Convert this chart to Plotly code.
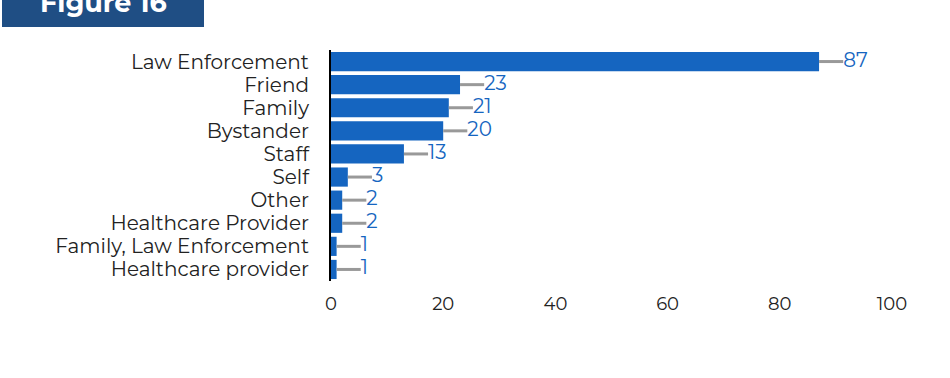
import plotly.graph_objects as go

# Referral source counts
categories = [
    "Law Enforcement", "Friend", "Family", "Bystander", "Staff", "Self",
    "Other", "Healthcare Provider", "Family, Law Enforcement", "Healthcare provider",
]
counts = [87, 23, 21, 20, 13, 3, 2, 2, 1, 1]
x_ticks = [0, 20, 40, 60, 80, 100]

BAR_BLUE = "#1565C0"
LEADER_GREY = "#999999"
FONT = "Montserrat, DejaVu Sans, sans-serif"
LEADER = 4.3  # length of the connector between bar end and label, in data units

W, H = 950, 378
ML, MR, MT, MB = 331, 58, 50, 97
pw, ph = W - ML - MR, H - MT - MB


def px_x(px):
    return (px - ML) / pw


def px_y(py):
    return (H - MB - py) / ph


fig = go.Figure()

fig.add_trace(go.Bar(
    y=categories,
    x=counts,
    orientation="h",
    marker=dict(color=BAR_BLUE, line=dict(width=0)),
    error_x=dict(
        type="data", symmetric=False,
        array=[LEADER] * len(counts), arrayminus=[0] * len(counts),
        color=LEADER_GREY, thickness=3, width=0,
    ),
    hoverinfo="skip",
))

fig.add_trace(go.Scatter(
    y=categories,
    x=[c + LEADER for c in counts],
    mode="text",
    text=[str(c) for c in counts],
    textposition="middle right",
    textfont=dict(family=FONT, size=20, color=BAR_BLUE),
    hoverinfo="skip",
    cliponaxis=False,
))

# Title badge
fig.add_shape(
    type="rect", xref="paper", yref="paper",
    x0=px_x(2), x1=px_x(204), y0=px_y(27), y1=px_y(-5),
    fillcolor="#1F4E84", line=dict(width=0), layer="above",
)
fig.add_annotation(
    xref="paper", yref="paper", x=px_x(103), y=px_y(3),
    text="<b>Figure 16</b>", showarrow=False,
    font=dict(family=FONT, size=27, color="white"),
    xanchor="center", yanchor="middle",
)

fig.update_layout(
    width=W, height=H,
    margin=dict(l=ML, r=MR, t=MT, b=MB),
    paper_bgcolor="white", plot_bgcolor="white",
    showlegend=False,
    bargap=0.17,
    font=dict(family=FONT, size=18, color="#222222"),
    xaxis=dict(
        range=[0, 100], tickvals=x_ticks, showgrid=False, zeroline=False,
        showline=False, ticks="", ticklabelstandoff=10,
        tickfont=dict(size=18, color="#222222"),
    ),
    yaxis=dict(
        categoryorder="array", categoryarray=categories, autorange="reversed",
        tickmode="array", tickvals=categories, ticktext=categories,
        showgrid=False, zeroline=False, showline=True, linecolor="black",
        linewidth=2, ticks="", ticklabelstandoff=16,
        tickfont=dict(size=20, color="#222222"),
    ),
)

fig.write_html("out.html")
